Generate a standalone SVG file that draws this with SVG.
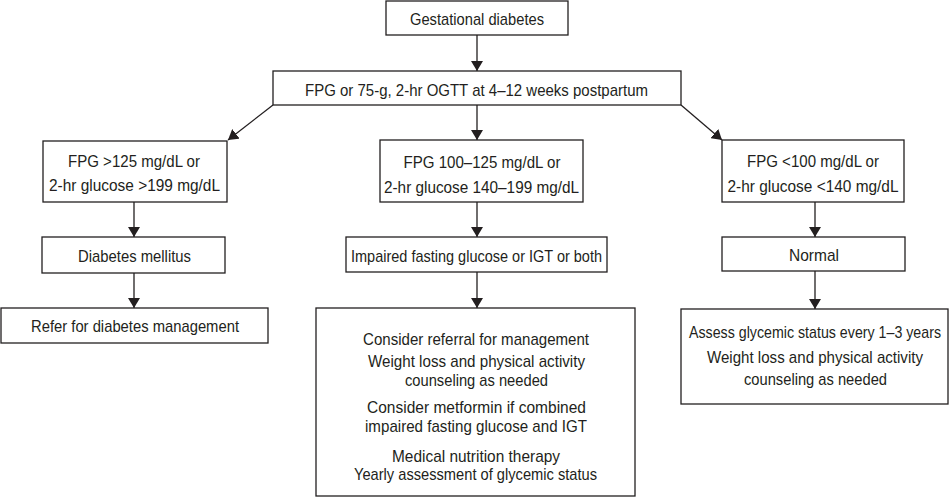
<svg xmlns="http://www.w3.org/2000/svg" width="950" height="498" viewBox="0 0 950 498">
<defs>
<marker id="ah" viewBox="0 0 10 12" refX="10" refY="6" markerWidth="10" markerHeight="12" markerUnits="userSpaceOnUse" orient="auto">
<path d="M0,0 L10,6 L0,12 z" fill="#231f20"/>
</marker>
<style>
rect{fill:#fff;stroke:#231f20;stroke-width:1.3}
text{font-family:"Liberation Sans",Arial,sans-serif;font-size:17px;fill:#231f20;text-anchor:middle}
.c line{stroke:#231f20;stroke-width:1.3;marker-end:url(#ah)}
</style>
</defs>
<rect x="0" y="0" width="950" height="498" style="fill:#fff;stroke:none"/>
<g class="c" id="connectors">
<line x1="477" y1="35" x2="477" y2="71"/>
<line x1="477" y1="105" x2="477" y2="140"/>
<line x1="273" y1="105" x2="228" y2="140"/>
<line x1="681" y1="105" x2="722" y2="140"/>
<line x1="134" y1="202" x2="134" y2="237"/>
<line x1="134" y1="273" x2="134" y2="308"/>
<line x1="477" y1="202" x2="477" y2="237"/>
<line x1="477" y1="272" x2="477" y2="308"/>
<line x1="815" y1="202" x2="815" y2="237"/>
<line x1="815" y1="271" x2="815" y2="309"/>
</g>
<g id="n1"><rect x="386" y="1" width="182" height="34"/><text x="477" y="25" textLength="134" lengthAdjust="spacingAndGlyphs">Gestational diabetes</text></g>
<g id="n2"><rect x="273" y="71" width="408" height="34"/><text x="476.5" y="96" textLength="343" lengthAdjust="spacingAndGlyphs">FPG or 75-g, 2-hr OGTT at 4–12 weeks postpartum</text></g>
<g id="n3"><rect x="43" y="141" width="184" height="61"/><text x="134" y="167" textLength="132" lengthAdjust="spacingAndGlyphs">FPG &gt;125 mg/dL or</text><text x="134.5" y="191" textLength="171" lengthAdjust="spacingAndGlyphs">2-hr glucose &gt;199 mg/dL</text></g>
<g id="n4"><rect x="380" y="140" width="203" height="62"/><text x="482" y="168" textLength="157" lengthAdjust="spacingAndGlyphs">FPG 100–125 mg/dL or</text><text x="481.5" y="193" textLength="195" lengthAdjust="spacingAndGlyphs">2-hr glucose 140–199 mg/dL</text></g>
<g id="n5"><rect x="722" y="140" width="182" height="62"/><text x="813" y="167" textLength="132" lengthAdjust="spacingAndGlyphs">FPG &lt;100 mg/dL or</text><text x="813" y="192" textLength="171" lengthAdjust="spacingAndGlyphs">2-hr glucose &lt;140 mg/dL</text></g>
<g id="n6"><rect x="42" y="237" width="183" height="36"/><text x="134.5" y="262" textLength="113" lengthAdjust="spacingAndGlyphs">Diabetes mellitus</text></g>
<g id="n7"><rect x="346" y="237" width="261" height="35"/><text x="476.5" y="262" textLength="251" lengthAdjust="spacingAndGlyphs">Impaired fasting glucose or IGT or both</text></g>
<g id="n8"><rect x="722" y="237" width="183" height="34"/><text x="814" y="261" textLength="50" lengthAdjust="spacingAndGlyphs">Normal</text></g>
<g id="n9"><rect x="1" y="308" width="267" height="35"/><text x="135" y="332" textLength="208" lengthAdjust="spacingAndGlyphs">Refer for diabetes management</text></g>
<g id="n10"><rect x="316" y="308" width="319" height="188"/>
<text x="476" y="345" textLength="226" lengthAdjust="spacingAndGlyphs">Consider referral for management</text>
<text x="476.5" y="367" textLength="217" lengthAdjust="spacingAndGlyphs">Weight loss and physical activity</text>
<text x="476.5" y="386" textLength="143" lengthAdjust="spacingAndGlyphs">counseling as needed</text>
<text x="476.5" y="413" textLength="219" lengthAdjust="spacingAndGlyphs">Consider metformin if combined</text>
<text x="476" y="432" textLength="222" lengthAdjust="spacingAndGlyphs">impaired fasting glucose and IGT</text>
<text x="476" y="462" textLength="168" lengthAdjust="spacingAndGlyphs">Medical nutrition therapy</text>
<text x="475.5" y="480" textLength="243" lengthAdjust="spacingAndGlyphs">Yearly assessment of glycemic status</text>
</g>
<g id="n11"><rect x="681" y="309" width="267" height="95"/>
<text x="815" y="338" textLength="252" lengthAdjust="spacingAndGlyphs">Assess glycemic status every 1–3 years</text>
<text x="815" y="363" textLength="216" lengthAdjust="spacingAndGlyphs">Weight loss and physical activity</text>
<text x="815.5" y="385" textLength="143" lengthAdjust="spacingAndGlyphs">counseling as needed</text>
</g>
</svg>
